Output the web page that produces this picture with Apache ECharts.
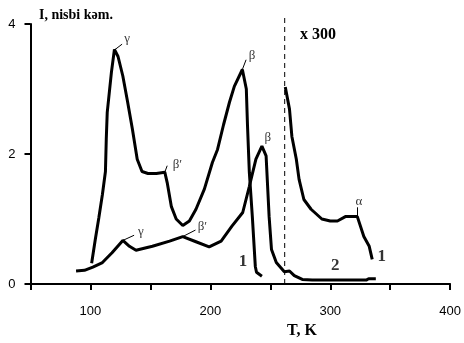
<!DOCTYPE html>
<html>
<head>
<meta charset="utf-8">
<script src="https://cdn.jsdelivr.net/npm/echarts@6/dist/echarts.min.js"></script>
<style>
html, body { margin: 0; padding: 0; background: #fff; }
#main { width: 464px; height: 343px; }
</style>
</head>
<body>
<div id="main"></div>
<script>
var myChart = echarts.init(document.getElementById('main'));

// curve 1 (main part) and its x300 continuation
var curve1 = [[101, 0.32], [104, 0.68], [107, 1.02], [110, 1.38], [112.5, 1.73], [113.2, 2.23], [114, 2.64],
    [117.5, 3.26], [120, 3.61], [123, 3.5], [127, 3.2], [131, 2.8], [135, 2.38], [139, 1.92], [143, 1.73],
    [148, 1.7], [155, 1.7], [162, 1.72], [164, 1.56], [167.5, 1.19], [171.5, 1.0], [177, 0.9], [182.5, 0.97],
    [188, 1.15], [195, 1.46], [201.7, 1.87], [206, 2.07], [211, 2.45], [216, 2.8], [220, 3.04], [226.7, 3.3],
    [230, 3.0], [231, 2.43], [232.5, 1.72], [235, 1.04], [237.5, 0.27], [238.5, 0.18], [243, 0.12]];
var curve1x300 = [[262.5, 3.03], [266, 2.69], [268, 2.27], [271.7, 1.92], [274, 1.61], [278, 1.3], [284, 1.15],
    [293, 1.0], [300, 0.97], [306, 0.97], [313, 1.04], [322.5, 1.04], [328, 0.73], [332.5, 0.58], [335, 0.38]];
var curve2 = [[88, 0.2], [95, 0.21], [102, 0.26], [110, 0.33], [118, 0.48], [127, 0.67], [132.5, 0.58],
    [138, 0.52], [151.7, 0.58], [166, 0.66], [177, 0.73], [188, 0.65], [199, 0.57], [209, 0.66], [218, 0.89],
    [227, 1.1], [232.5, 1.5], [238, 1.92], [243, 2.12], [246.5, 1.97], [249, 1.04], [251, 0.53], [255, 0.33],
    [261.7, 0.19], [266, 0.2], [270, 0.13], [276.7, 0.07], [285, 0.06], [330, 0.06], [332, 0.08], [338, 0.08]];

// x300 divider
var dividerT = 262;
var dividerTop = 4.15;

// peak labels: text, position of label, leader start, leader end
var peakText = ['γ', 'β′', 'β', 'β', 'γ', 'β′', 'α'];
var peakPos = [[130.6, 3.78], [172.5, 1.84], [234.7, 3.51], [248, 2.25], [142.1, 0.8], [193.4, 0.89], [324, 1.27]];
var leaderFrom = [[120, 3.6], [162, 1.72], [226.7, 3.3], null, [127, 0.67], [177, 0.73], [322.5, 1.04]];
var leaderTo = [[126.4, 3.69], [164, 1.82], [229.8, 3.45], null, [136.4, 0.75], [187.6, 0.83], [322.5, 1.18]];

// curve numbers
var numText = ['1', '2', '1'];
var numPos = [[227.3, 0.34], [304.1, 0.29], [343, 0.42]];

var xTicks = [100, 200, 300, 400];

var leaders = [];
for (var i = 0; i < leaderFrom.length; i++) {
    if (leaderFrom[i]) {
        leaders.push([{coord: leaderFrom[i]}, {coord: leaderTo[i]}]);
    }
}

function textPoints(texts, pos) {
    return pos.map(function (p, i) {
        return {value: p, name: texts[i]};
    });
}

var curveStyle = {color: '#000', width: 3};

var option = {
    animation: false,
    backgroundColor: '#fff',
    title: [
        {
            text: 'I, nisbi kəm.', left: 34, top: 3,
            textStyle: {fontFamily: 'Liberation Serif', fontWeight: 'bold', fontSize: 14, color: '#000'}
        },
        {
            text: 'x 300', left: 295, top: 22,
            textStyle: {fontFamily: 'Liberation Serif', fontWeight: 'bold', fontSize: 16, color: '#000'}
        },
        {
            text: 'T, K', left: 282, top: 318,
            textStyle: {fontFamily: 'Liberation Serif', fontWeight: 'bold', fontSize: 16, color: '#000'}
        }
    ],
    grid: {left: 30.5, right: 10, top: 24, bottom: 59},
    xAxis: {
        type: 'value',
        min: 50,
        max: 400,
        interval: 50,
        splitLine: {show: false},
        axisLine: {lineStyle: {color: '#000', width: 2}},
        axisTick: {length: 6, lineStyle: {color: '#000', width: 2}},
        axisLabel: {
            margin: 21,
            fontFamily: 'Liberation Sans',
            fontSize: 13,
            color: '#000',
            formatter: function (v) {
                return xTicks.indexOf(v) >= 0 ? String(v) : '';
            }
        }
    },
    yAxis: {
        type: 'value',
        min: 0,
        max: 4,
        interval: 2,
        splitLine: {show: false},
        axisLine: {show: true, lineStyle: {color: '#000', width: 2}},
        axisTick: {show: true, length: 6, lineStyle: {color: '#000', width: 2}},
        axisLabel: {margin: 15, fontFamily: 'Liberation Sans', fontSize: 13, color: '#000'}
    },
    series: [
        {
            type: 'line', data: curve1, symbol: 'none', lineStyle: curveStyle
        },
        {
            type: 'line', data: curve1x300, symbol: 'none', lineStyle: curveStyle
        },
        {
            type: 'line', data: curve2, symbol: 'none', lineStyle: curveStyle
        },
        {
            type: 'line',
            data: [[dividerT, 0], [dividerT, dividerTop]],
            symbol: 'none',
            clip: false,
            lineStyle: {color: '#000', width: 1, type: [5, 4]}
        },
        {
            type: 'scatter',
            symbolSize: 0,
            silent: true,
            data: textPoints(peakText, peakPos),
            label: {
                show: true,
                position: 'inside',
                formatter: '{b}',
                fontFamily: 'Liberation Serif',
                fontSize: 13,
                color: '#000'
            },
            markLine: {
                silent: true,
                symbol: 'none',
                label: {show: false},
                lineStyle: {color: '#000', width: 1, type: 'solid'},
                data: leaders
            }
        },
        {
            type: 'scatter',
            symbolSize: 0,
            silent: true,
            data: textPoints(numText, numPos),
            label: {
                show: true,
                position: 'inside',
                formatter: '{b}',
                fontFamily: 'Liberation Serif',
                fontWeight: 'bold',
                fontSize: 17,
                color: '#000'
            }
        }
    ]
};

myChart.setOption(option);
</script>
</body>
</html>
